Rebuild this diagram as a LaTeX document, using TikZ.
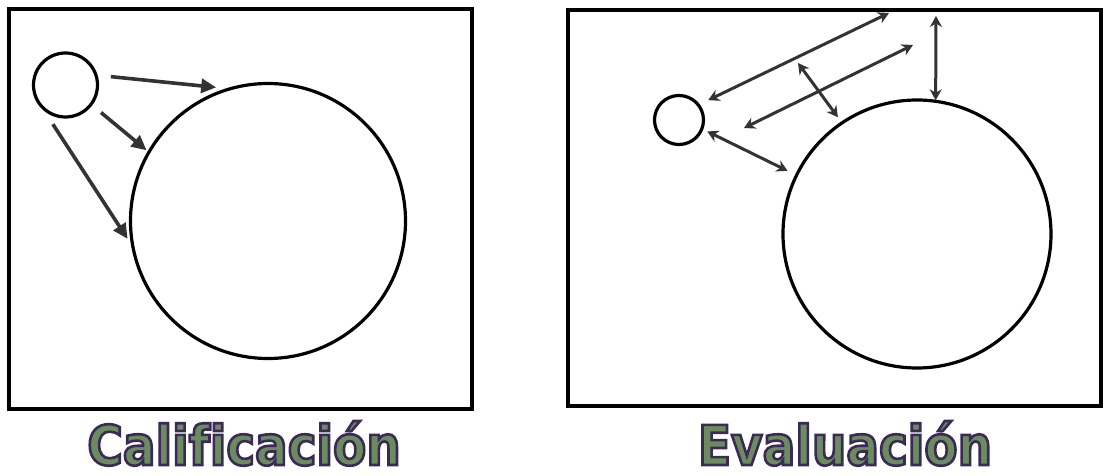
\documentclass[tikz,border=0pt]{standalone}
\usepackage{fontspec}
\usetikzlibrary{arrows.meta}
\newfontfamily\titlefont{DejaVu Sans}[FakeStretch=0.88,Ligatures=NoCommon]

\colorlet{figLine}{black!80}
\definecolor{figGreen}{RGB}{108,140,96}
\newcommand\outlined[1]{\special{pdf:literal direct 2 Tr 2.6 w 0.23 0.16 0.34 RG}#1\special{pdf:literal direct 0 Tr}}

\begin{document}
\begin{tikzpicture}[x=1pt,y=-1pt,
    frame/.style={draw, line width=4pt},
    ring/.style={circle, draw, line width=3.2pt, inner sep=0pt, outer sep=0pt},
    onehead/.style={figLine, line width=3.6pt, -{Triangle[length=15pt,width=14pt]}},
    twohead/.style={figLine, line width=3pt,
      {Stealth[length=11pt,width=12pt]}-{Stealth[length=11pt,width=12pt]}},
    title/.style={anchor=base, inner sep=0pt, text depth=0pt, figGreen,
      font=\titlefont\bfseries\fontsize{55}{60}\selectfont}]
        \useasboundingbox (0,0) rectangle (1104,476);
        \draw[frame] (9,9) rectangle (472,409);
        \draw[frame] (568,10) rectangle (1101,406);

        \node[ring, minimum size=64pt]  (smallA) at (65.5,85) {};
        \node[ring, minimum size=275pt] (bigA)   at (268,221) {};
        \draw[onehead, shorten <=15pt, shorten >=14pt] (smallA.18) -- (bigA.106);
        \draw[onehead, shorten <=13pt, shorten >=3pt]  (smallA.-37) -- (bigA.150);
        \draw[onehead, shorten <=26pt, shorten >=10pt] (smallA.213) -- (bigA.191);

        \node[ring, minimum size=49pt]  (smallB) at (679,120) {};
        \node[ring, minimum size=268pt] (bigB)   at (917,234) {};
        \coordinate (topB)   at (889,13);
        \coordinate (lineBa) at (744,128);
        \coordinate (lineBb) at (913,45);
        \coordinate (crossB) at (798,63);
        \coordinate (roofB)  at (936,16);
        \draw[twohead, shorten <=11pt] (smallB.38) -- (topB);
        \draw[twohead] (lineBa) -- (lineBb);
        \draw[twohead, shorten >=7pt] (crossB) -- (bigB.124);
        \draw[twohead, shorten >=1pt] (roofB) -- (bigB.82);
        \draw[twohead, shorten <=6pt, shorten >=10pt] (smallB.-21) -- (bigB.154);

        \node[title] (califA) at (244,465) {\outlined{Calificación}};
        \node[title] (evalB)  at (845,465) {\outlined{Evaluación}};
      \end{tikzpicture}
\end{document}
